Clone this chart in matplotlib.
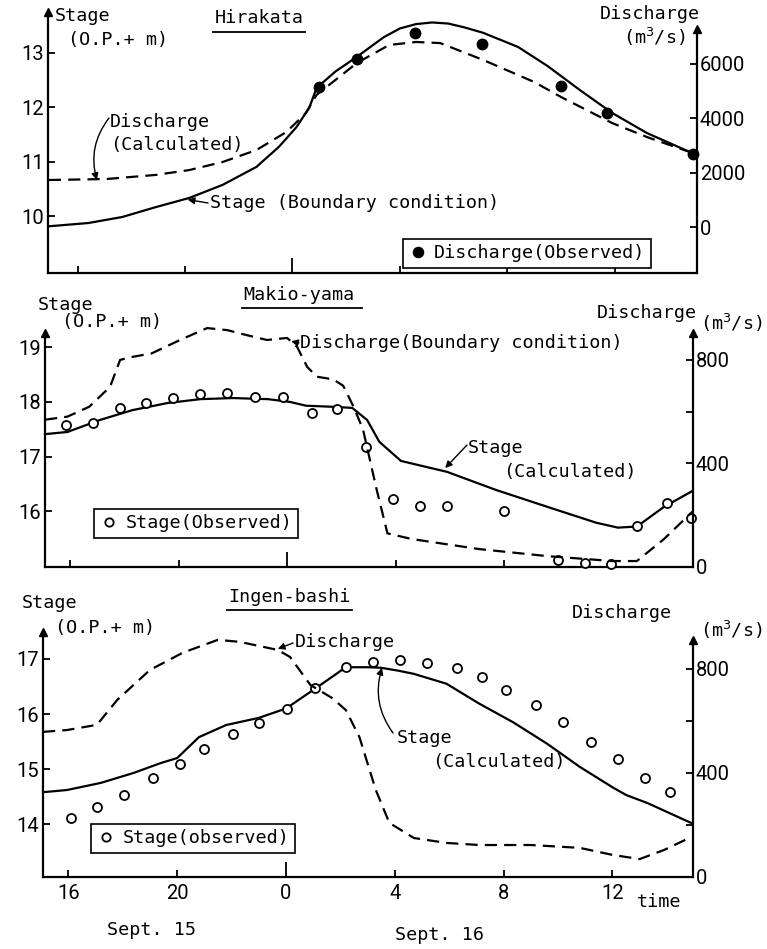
import matplotlib.pyplot as plt
from matplotlib.lines import Line2D

# %% Style
W, H = 767, 949
MONO = "DejaVu Sans Mono"
NARROW = ["Roboto", "DejaVu Sans"]
FS = 13.2
TICK_FS = 14.5
LW = 1.6
DASH = (5.5, 3.2)

plt.rcParams.update(
    {
        "font.family": MONO,
        "font.size": FS,
        "axes.linewidth": LW,
        "xtick.direction": "in",
        "ytick.direction": "in",
        "xtick.major.width": 1.3,
        "ytick.major.width": 1.3,
        "xtick.major.size": 5,
        "ytick.major.size": 5,
    }
)

# %% Data  (time in hours from Sept. 15 0:00)
x_ticks = [16, 20, 24, 28, 32, 36]
x_labels = ["16", "20", "0", "4", "8", "12"]

# Hirakata
hk_t_stage = [14.93, 16.4, 17.66, 18.9, 20.16, 21.4, 22.66, 23.5, 24.15, 24.63, 24.9, 25.6,
              26.4, 27.4, 28.0, 28.6, 29.2, 29.8, 30.4, 31.1, 32.4, 33.5, 34.7, 35.9,
              37.2, 38.9]
hk_stage = [9.82, 9.88, 9.99, 10.17, 10.34, 10.58, 10.91, 11.28, 11.64, 12.0, 12.36, 12.66,
            12.93, 13.29, 13.45, 13.53, 13.56, 13.54, 13.47, 13.37, 13.11, 12.76, 12.32, 11.90,
            11.53, 11.16]
hk_t_q = [14.93, 17.06, 18.9, 20.16, 21.4, 22.66, 23.78, 24.5, 24.9, 26.4, 27.6, 28.6, 29.5,
          31.1, 33.0, 34.0, 35.9, 37.2, 38.9]
hk_q = [1725, 1760, 1910, 2090, 2385, 2825, 3490, 4180, 4850, 6020, 6680, 6790, 6750,
        6130, 5320, 4770, 3815, 3300, 2715]
hk_t_obs = [25.0, 26.4, 28.55, 31.05, 34.0, 35.7, 38.9]
hk_q_obs = [5140, 6170, 7120, 6720, 5180, 4180, 2680]

# Makio-yama
mk_t_stage = [15.07, 15.9, 17.1, 18.3, 19.6, 20.8, 22.0, 23.3, 24.1, 24.7, 25.7, 26.4,
              26.95, 27.4, 28.2, 29.9, 31.7, 33.6, 35.4, 36.2, 36.9, 37.9, 38.95]
mk_stage = [17.41, 17.45, 17.67, 17.85, 17.98, 18.05, 18.07, 18.05, 18.0, 17.93, 17.91, 17.89,
            17.67, 17.27, 16.92, 16.72, 16.39, 16.08, 15.79, 15.70, 15.72, 16.08, 16.37]
mk_t_q = [15.07, 15.9, 16.7, 17.47, 17.84, 18.2, 19.0, 20.05, 21.05, 21.8, 22.5, 23.26, 24.0,
          24.37, 24.74, 25.1, 25.7, 26.07, 26.45, 26.8, 27.3, 27.7, 28.6, 31.1, 33.6, 36.0,
          36.9, 37.9, 38.95]
mk_q = [569, 581, 619, 696, 800, 810, 825, 877, 923, 915, 896, 877, 885,
        850, 773, 735, 725, 700, 619, 531, 300, 130, 108, 69, 42, 23,
        23, 108, 214]
mk_t_obs = [15.85, 16.85, 17.84, 18.8, 19.8, 20.8, 21.8, 22.8, 23.85, 24.9, 25.85, 26.9,
            27.9, 28.9, 29.9, 32.0, 34.0, 35.0, 35.95, 36.9, 38.0, 38.9]
mk_stage_obs = [17.58, 17.62, 17.89, 17.98, 18.07, 18.15, 18.16, 18.09, 18.09, 17.80, 17.87,
                17.18, 16.23, 16.10, 16.10, 16.01, 15.10, 15.05, 15.03, 15.73, 16.15, 15.88]

# Ingen-bashi
ig_t_stage = [15.07, 15.95, 17.2, 18.4, 19.4, 20.0, 20.8, 21.8, 23.0, 24.0, 25.1, 26.2,
              27.0, 27.5, 28.1, 28.7, 29.9, 31.1, 32.35, 33.6, 34.8, 36.0, 36.5, 37.3, 38.9]
ig_stage = [14.58, 14.62, 14.75, 14.93, 15.11, 15.20, 15.58, 15.80, 15.93, 16.10, 16.47, 16.85,
            16.85, 16.84, 16.79, 16.73, 16.55, 16.19, 15.85, 15.46, 15.04, 14.67, 14.53, 14.38,
            14.02]
ig_t_q = [15.07, 15.95, 17.05, 17.8, 19.0, 20.2, 21.5, 22.3, 23.7, 24.15, 24.9, 25.7,
          26.2, 26.7, 27.3, 27.8, 28.7, 29.9, 31.1, 33.0, 34.8, 36.0, 37.0, 37.9, 38.9]
ig_q = [558, 565, 585, 681, 796, 862, 912, 904, 873, 846, 738, 688,
        642, 538, 335, 208, 150, 131, 123, 123, 112, 85, 69, 104, 154]
ig_t_obs = [16.1, 17.05, 18.05, 19.1, 20.1, 21.0, 22.05, 23.0, 24.05, 25.05, 26.2, 27.2,
            28.2, 29.2, 30.3, 31.2, 32.1, 33.2, 34.2, 35.2, 36.2, 37.2, 38.1]
ig_stage_obs = [14.11, 14.31, 14.53, 14.84, 15.09, 15.36, 15.64, 15.84, 16.10, 16.47, 16.85, 16.95,
                16.98, 16.93, 16.84, 16.67, 16.44, 16.16, 15.85, 15.49, 15.18, 14.84, 14.58]


# %% Helpers
fig = plt.figure(figsize=(W / 100, H / 100), dpi=100)


def rect(l, r, t, b):
    return [l / W, 1 - b / H, (r - l) / W, (b - t) / H]


def fxy(x, y):
    return (x / W, 1 - y / H)


def ftext(x, y, s, **kw):
    kw.setdefault("va", "center")
    kw.setdefault("ha", "left")
    fig.text(x / W, 1 - y / H, s, family=MONO, fontsize=FS, **kw)


def underline(x0, x1, y):
    fig.add_artist(Line2D([x0 / W, x1 / W], [1 - y / H, 1 - y / H],
                          transform=fig.transFigure, color="k", lw=1.3))


def arrow(ax, tip, start, rad=0.0):
    ax.annotate("", xy=tip, xycoords="data", xytext=fxy(*start),
                textcoords="figure fraction",
                arrowprops=dict(arrowstyle="-|>", color="k", lw=1.0,
                                mutation_scale=10, shrinkA=0, shrinkB=0,
                                connectionstyle=f"arc3,rad={rad}"))


def panel(box, xlim, ylim, ylim2, yticks, yticks2, ylabels2, top2=None, xlabels=False):
    ax = fig.add_axes(rect(*box))
    ax2 = ax.twinx()
    ax.set_xlim(xlim)
    ax.set_ylim(ylim)
    ax2.set_ylim(ylim2)
    for s in ("top", "right"):
        ax.spines[s].set_visible(False)
    for s in ("top", "left", "bottom"):
        ax2.spines[s].set_visible(False)
    ax.set_yticks(yticks)
    ax.set_yticklabels([str(v) for v in yticks], family=NARROW, fontsize=TICK_FS)
    ax2.set_yticks(yticks2)
    ax2.set_yticklabels(ylabels2, family=NARROW, fontsize=TICK_FS)
    ax.tick_params(axis="y", pad=3)
    ax2.tick_params(axis="y", pad=2)
    ax.set_xticks(x_ticks)
    if xlabels:
        ax.set_xticklabels(x_labels, family=NARROW, fontsize=TICK_FS)
        ax.tick_params(axis="x", pad=5)
    else:
        ax.set_xticklabels([])
    ax.xaxis.get_major_ticks()[2].tick1line.set_markersize(11)
    ax.plot(0, 1, marker="^", color="k", ms=6, transform=ax.transAxes, clip_on=False)
    if top2 is not None:
        ax2.spines["right"].set_bounds(ylim2[0], top2)
        ax2.plot(xlim[1], top2, marker="^", color="k", ms=6, clip_on=False)
    else:
        ax2.plot(1, 1, marker="^", color="k", ms=6, transform=ax2.transAxes, clip_on=False)
    return ax, ax2


def obs_legend(ax, label, center, filled):
    h = Line2D([], [], ls="none", marker="o", color="k", ms=7 if filled else 6,
               mfc="k" if filled else "white", mew=1.3)
    leg = ax.legend([h], [label], loc="center", bbox_to_anchor=fxy(*center),
                    bbox_transform=fig.transFigure, frameon=True, fancybox=False,
                    edgecolor="k", framealpha=1, handlelength=1.0, handletextpad=0.4,
                    borderpad=0.3, prop={"family": MONO, "size": FS})
    leg.get_frame().set_linewidth(1.2)


# %% Hirakata
ax, ax2 = panel((48, 697, 12, 273), (14.9, 39.06), (8.963, 13.752), (-1688, 7890),
                [10, 11, 12, 13], [0, 2000, 4000, 6000], ["0", "2000", "4000", "6000"],
                top2=7284)
ax.plot(hk_t_stage, hk_stage, color="k", lw=LW, clip_on=False)
ax2.plot(hk_t_q, hk_q, color="k", lw=LW, dashes=DASH, clip_on=False)
ax2.plot(hk_t_obs, hk_q_obs, ls="none", marker="o", color="k", ms=7.5, clip_on=False)
obs_legend(ax2, "Discharge(Observed)", (527, 253), True)

ftext(55, 16, "Stage")
ftext(68, 40, "(O.P.+ m)")
ftext(215, 18, "Hirakata")
underline(213, 305, 32)
ftext(600, 14, "Discharge")
ftext(623, 37, "(m$^3$/s)")
ftext(110, 122, "Discharge")
ftext(110, 145, "(Calculated)")
arrow(ax2, (16.72, 1725), (109, 118), rad=0.25)
ftext(210, 203, "Stage (Boundary condition)")
arrow(ax, (20.1, 10.31), (208, 203))

# %% Makio-yama
ax, ax2 = panel((45, 693, 333, 567), (15.07, 38.97), (14.98, 19.26), (3.8, 904),
                [16, 17, 18, 19], [0, 400, 600, 800], ["0", "400", "", "800"])
ax.plot(mk_t_stage, mk_stage, color="k", lw=LW, clip_on=False)
ax2.plot(mk_t_q, mk_q, color="k", lw=LW, dashes=DASH, clip_on=False)
ax.plot(mk_t_obs, mk_stage_obs, ls="none", marker="o", color="k", mfc="white",
        ms=6.5, mew=1.3, clip_on=False, zorder=5)
obs_legend(ax2, "Stage(Observed)", (196, 523), False)

ftext(38, 305, "Stage")
ftext(62, 322, "(O.P.+ m)")
ftext(243, 295, "Makio-yama")
underline(242, 362, 308)
ftext(597, 313, "Discharge")
ftext(700, 323, "(m$^3$/s)")
ftext(300, 343, "Discharge(Boundary condition)")
arrow(ax2, (24.15, 872), (299, 343))
ftext(468, 448, "Stage")
ftext(503, 472, "(Calculated)")
arrow(ax, (29.83, 16.79), (467, 445))

# %% Ingen-bashi
ax, ax2 = panel((43, 693, 632, 877), (15.07, 38.96), (13.04, 17.49), (0, 942),
                [14, 15, 16, 17], [0, 200, 400, 600, 800], ["0", "", "400", "", "800"],
                top2=912, xlabels=True)
ax.plot(ig_t_stage, ig_stage, color="k", lw=LW, clip_on=False)
ax2.plot(ig_t_q, ig_q, color="k", lw=LW, dashes=DASH, clip_on=False)
ax.plot(ig_t_obs, ig_stage_obs, ls="none", marker="o", color="k", mfc="white",
        ms=6.5, mew=1.3, clip_on=False, zorder=5)
obs_legend(ax2, "Stage(observed)", (193, 838), False)

ftext(22, 603, "Stage")
ftext(55, 628, "(O.P.+ m)")
ftext(228, 597, "Ingen-bashi")
underline(227, 352, 610)
ftext(572, 613, "Discharge")
ftext(700, 630, "(m$^3$/s)")
ftext(295, 642, "Discharge")
arrow(ax2, (23.7, 877), (293, 643))
ftext(397, 738, "Stage")
ftext(432, 762, "(Calculated)")
arrow(ax, (27.53, 16.84), (393, 733), rad=-0.25)

ftext(637, 902, "time")
ftext(107, 930, "Sept. 15")
ftext(395, 935, "Sept. 16")

fig.savefig("out.png", dpi=100)
